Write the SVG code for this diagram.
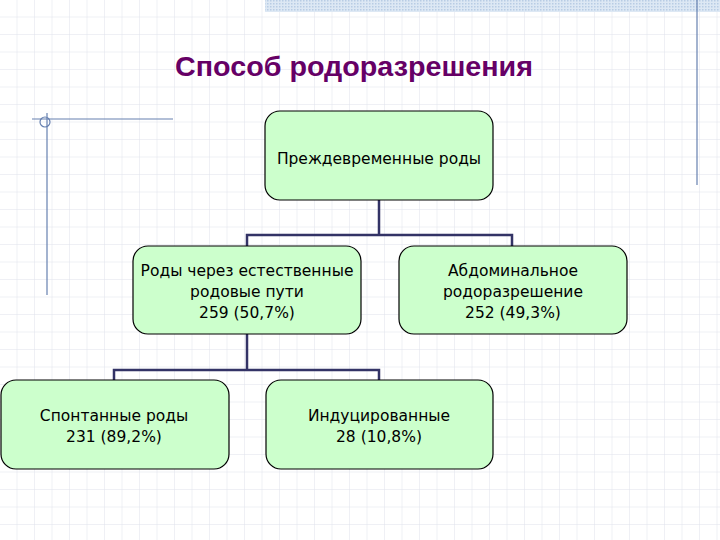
<svg xmlns="http://www.w3.org/2000/svg" width="720" height="540" viewBox="0 0 720 540">
<defs>
<pattern id="grid" width="17.5" height="17.5" patternUnits="userSpaceOnUse" x="0" y="0">
<path d="M17.5 0V17.5M0 17.5H17.5" fill="none" stroke="#e0e2ec" stroke-width="1"/>
</pattern>
<pattern id="hatch" width="3" height="3" patternUnits="userSpaceOnUse">
<rect width="3" height="3" fill="#dde8f4"/><rect width="1.5" height="1.5" fill="#b8cce4"/>
</pattern>
<style>
.box{fill:#ccffcc;stroke:#000;stroke-width:1.2}
.t{font-family:"DejaVu Sans",Verdana,sans-serif;font-size:15.5px;fill:#000;text-anchor:middle}
.c{fill:none;stroke:#333366;stroke-width:2.5}
.d{fill:none;stroke:#6680b0;stroke-width:1.2}
</style>
</defs>
<rect width="720" height="540" fill="#fff"/>
<rect width="720" height="540" fill="url(#grid)"/>
<rect x="265" y="0" width="455" height="12" fill="url(#hatch)"/>
<g id="decor">
<line class="d" x1="697" y1="0" x2="697" y2="185"/>
<line class="d" x1="32" y1="119" x2="173" y2="119"/>
<line class="d" x1="47" y1="113" x2="47" y2="295"/>
<circle class="d" cx="45" cy="122" r="5"/>
</g>
<text x="354" y="76" font-family="'Liberation Sans',Arial,sans-serif" font-weight="bold" font-size="27" fill="#660066" text-anchor="middle" textLength="358" lengthAdjust="spacingAndGlyphs">Способ родоразрешения</text>
<g id="connectors">
<path class="c" d="M379 200V235M247 246V235H512V246"/>
<path class="c" d="M247 334V370M114 380V370H379V380"/>
</g>
<g id="n1"><rect class="box" x="265" y="111" width="228" height="89" rx="15"/><text class="t" x="379" y="164">Преждевременные роды</text></g>
<g id="n2"><rect class="box" x="133" y="246" width="228" height="88" rx="15"/><text class="t" x="247" y="276">Роды через естественные</text><text class="t" x="247" y="297">родовые пути</text><text class="t" x="247" y="318">259 (50,7%)</text></g>
<g id="n3"><rect class="box" x="399" y="246" width="228" height="88" rx="15"/><text class="t" x="513" y="276">Абдоминальное</text><text class="t" x="513" y="297">родоразрешение</text><text class="t" x="513" y="318">252 (49,3%)</text></g>
<g id="n4"><rect class="box" x="1" y="380" width="228" height="89" rx="15"/><text class="t" x="114" y="421">Спонтанные роды</text><text class="t" x="114" y="442">231 (89,2%)</text></g>
<g id="n5"><rect class="box" x="266" y="380" width="227" height="89" rx="15"/><text class="t" x="379" y="421">Индуцированные</text><text class="t" x="379" y="442">28 (10,8%)</text></g>
</svg>
